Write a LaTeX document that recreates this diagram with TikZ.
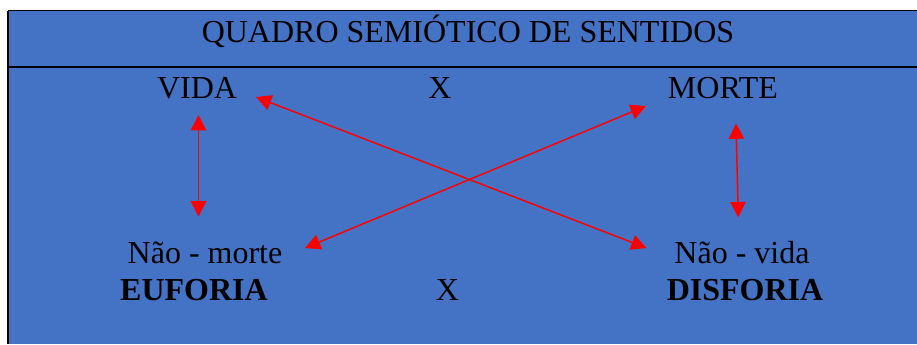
\documentclass[tikz,border=0pt]{standalone}
\usepackage{fontspec}
\setmainfont{Liberation Serif}
\usetikzlibrary{arrows.meta}
\definecolor{boxblue}{HTML}{4472C4}
\definecolor{arrred}{HTML}{FF0000}
\tikzset{
  lbl/.style={anchor=base, inner sep=0pt, font=\fontsize{24}{28}\selectfont, text=black},
  blbl/.style={lbl, font=\fontsize{24}{28}\selectfont\bfseries},
  rarrow/.style={draw=arrred, line width=1.1pt, {Triangle[length=11.5pt,width=11.5pt]}-{Triangle[length=11.5pt,width=11.5pt]}, arrred},
}
\begin{document}
\begin{tikzpicture}[x=0.75pt, y=-0.75pt]
\useasboundingbox (0,0) rectangle (917,344);
\fill[white] (0,0) rectangle (917,344);
\fill[boxblue] (8,10.5) rectangle (917,344);
\draw[black, line width=1.1pt] (8,10.5) -- (917,10.5);
\draw[black, line width=1.6pt] (8,10.5) -- (8,344);
\draw[black, line width=0.9pt] (8,67) -- (917,67);
% texts
\node[lbl] (title) at (468,42) {QUADRO SEMIÓTICO DE SENTIDOS};
\node[lbl] (vida) at (197,98) {VIDA};
\node[lbl] (xtop) at (440,98) {X};
\node[lbl] (morte) at (723,98) {MORTE};
\node[lbl] (naomorte) at (205,263) {Não - morte};
\node[blbl] (euforia) at (194,300) {EUFORIA};
\node[lbl] (naovida) at (742,263) {Não - vida};
\node[blbl] (disforia) at (745,300) {DISFORIA};
\node[lbl] (xbot) at (447.5,300) {X};
% arrow endpoints
\coordinate (lvt) at (198.5,115);
\coordinate (lvb) at (198.5,216.5);
\coordinate (rvt) at (736,123.5);
\coordinate (rvb) at (738.3,217.3);
\coordinate (dvida) at (256,97);
\coordinate (dnaovida) at (646.5,248);
\coordinate (dmorte) at (646,106);
\coordinate (dnaomorte) at (305,248);
\draw[rarrow] (lvt) -- (lvb);
\draw[rarrow] (rvt) -- (rvb);
\draw[rarrow] (dvida) -- (dnaovida);
\draw[rarrow] (dmorte) -- (dnaomorte);
\end{tikzpicture}
\end{document}
